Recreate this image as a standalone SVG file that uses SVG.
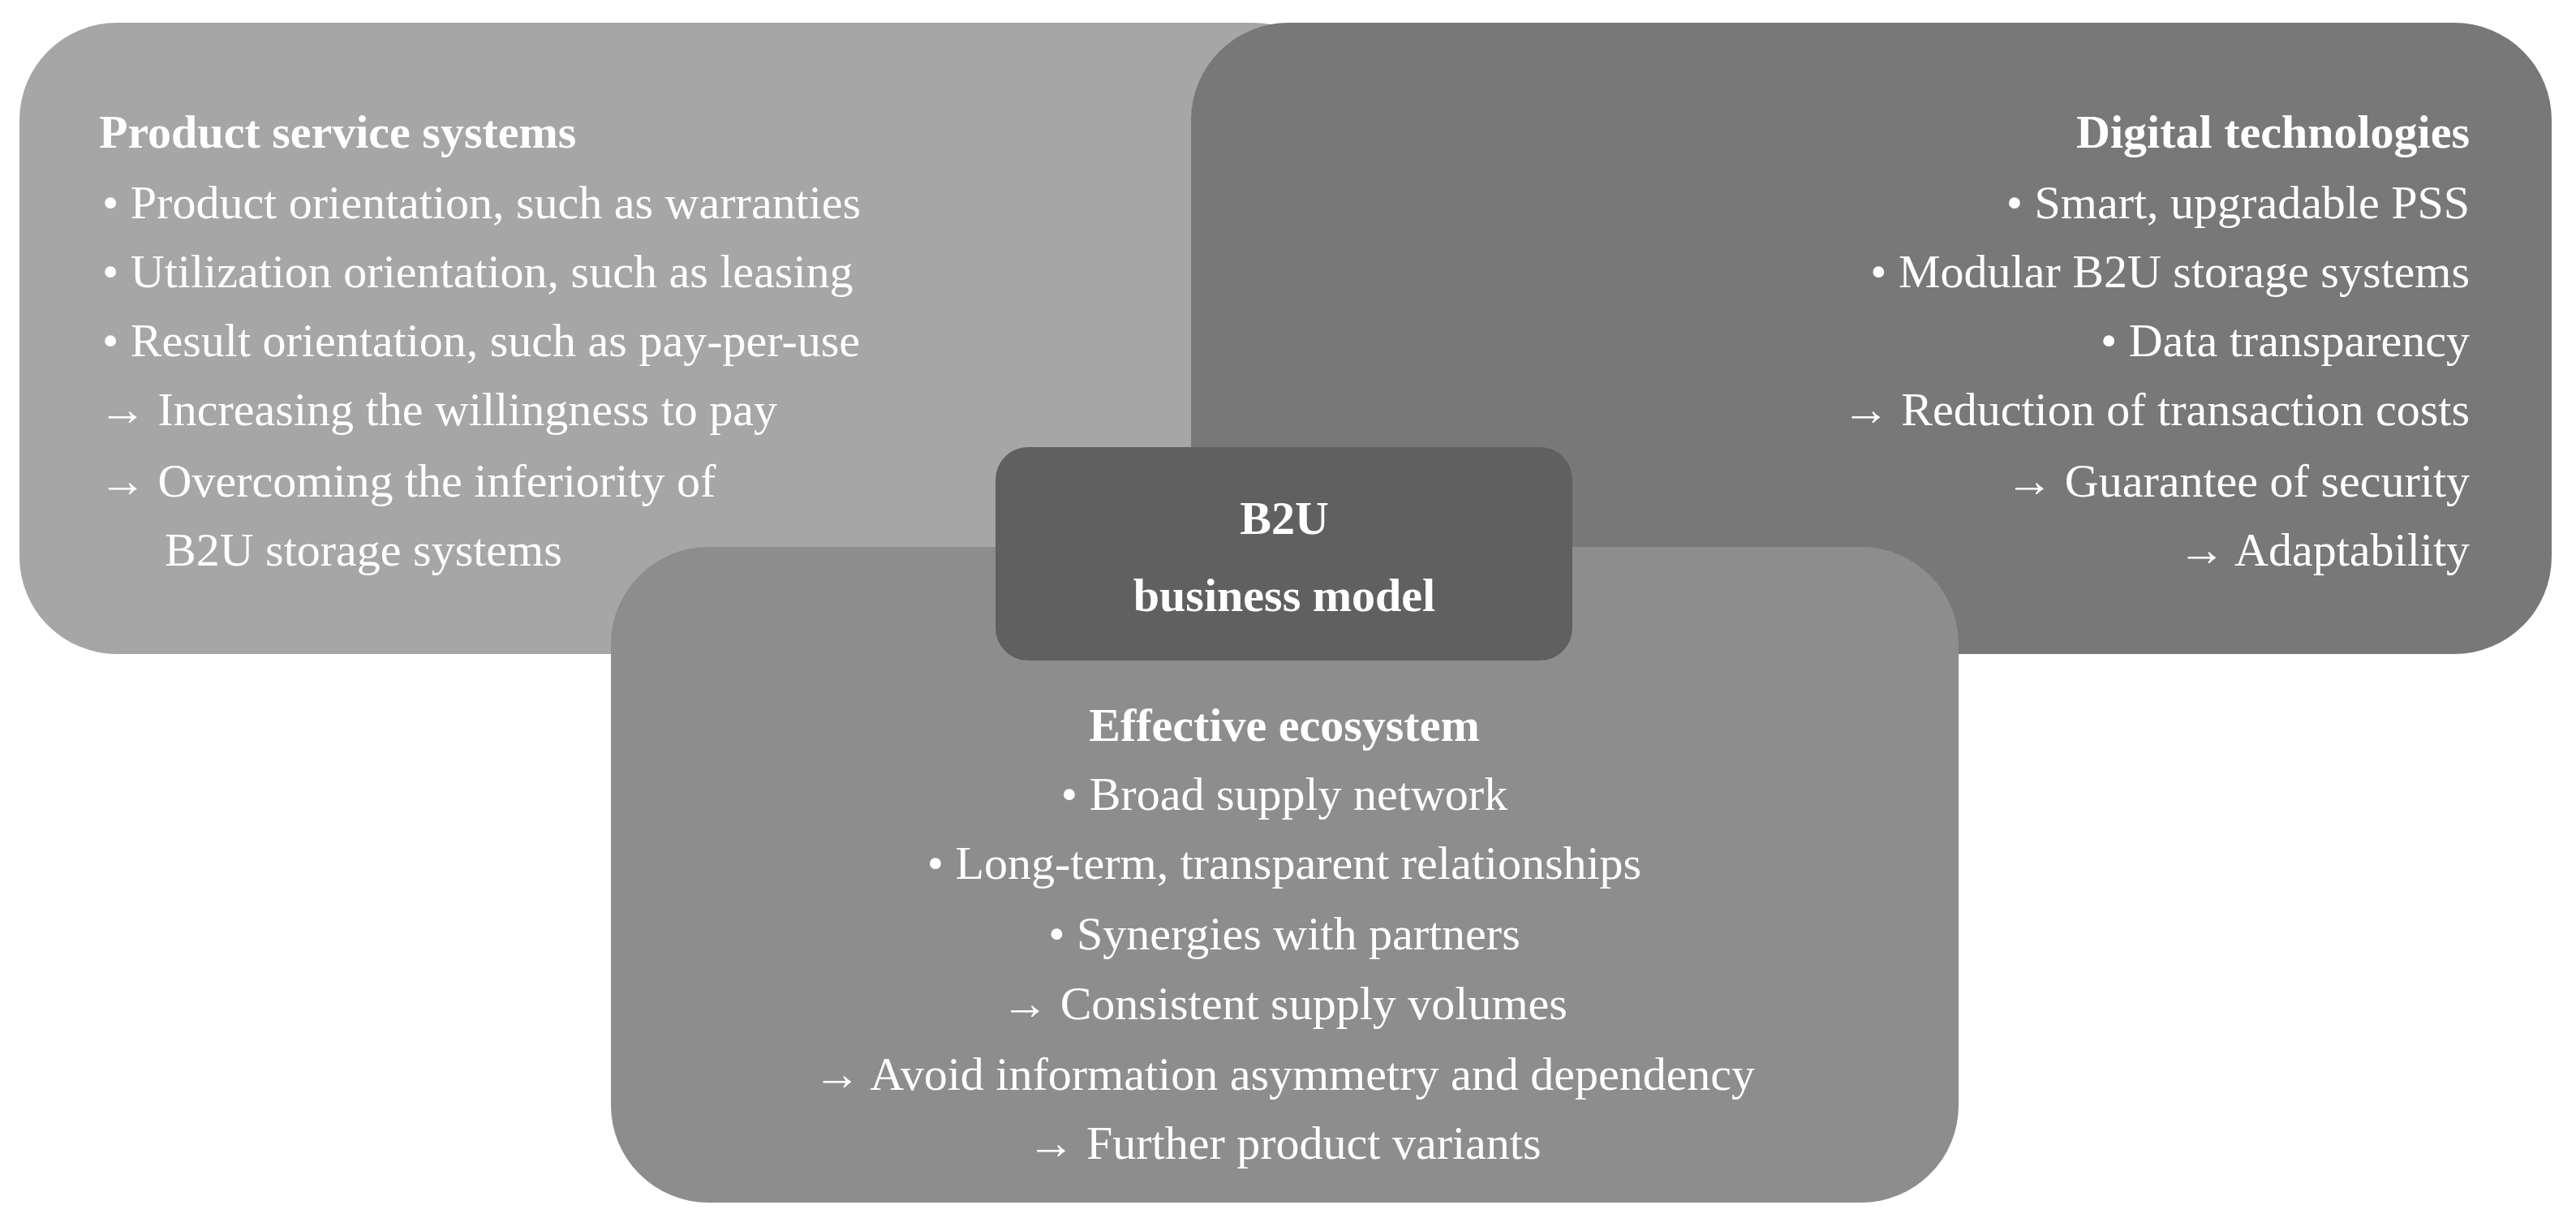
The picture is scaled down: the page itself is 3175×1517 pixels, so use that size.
<svg xmlns="http://www.w3.org/2000/svg" width="3175" height="1517" viewBox="0 0 3175 1517">
<style>
text{font-family:"Liberation Serif","DejaVu Serif",serif;font-size:58px;fill:#fff}
.b{font-weight:bold}
.r{text-anchor:end}
.m{text-anchor:middle}
</style>
<rect width="3175" height="1517" fill="#fff"/>
<g id="pss">
<rect x="24" y="28" width="1640" height="778" rx="120" fill="#a6a6a6"/>
</g>
<g id="digital">
<rect x="1468" y="28" width="1677" height="778" rx="120" fill="#787878"/>
</g>
<g id="ecosystem">
<rect x="753" y="674" width="1661" height="808" rx="120" fill="#8d8d8d"/>
</g>
<g id="pss-text">
<text x="122" y="182" class="b">Product service systems</text>
<text x="126" y="269">• Product orientation, such as warranties</text>
<text x="126" y="354">• Utilization orientation, such as leasing</text>
<text x="126" y="439">• Result orientation, such as pay-per-use</text>
<text x="122" y="524">→ Increasing the willingness to pay</text>
<text x="122" y="612">→ Overcoming the inferiority of</text>
<text x="203" y="697">B2U storage systems</text>
</g>
<g id="digital-text" class="r">
<text x="3044" y="182" class="b r">Digital technologies</text>
<text x="3044" y="269" class="r">• Smart, upgradable PSS</text>
<text x="3044" y="354" class="r">• Modular B2U storage systems</text>
<text x="3044" y="439" class="r">• Data transparency</text>
<text x="3044" y="524" class="r">→ Reduction of transaction costs</text>
<text x="3044" y="612" class="r">→ Guarantee of security</text>
<text x="3044" y="697" class="r">→ Adaptability</text>
</g>
<g id="eco-text">
<text x="1583" y="913" class="b m">Effective ecosystem</text>
<text x="1583" y="998" class="m">• Broad supply network</text>
<text x="1583" y="1083" class="m">• Long-term, transparent relationships</text>
<text x="1583" y="1170" class="m">• Synergies with partners</text>
<text x="1583" y="1256" class="m">→ Consistent supply volumes</text>
<text x="1583" y="1343" class="m">→ Avoid information asymmetry and dependency</text>
<text x="1583" y="1428" class="m">→ Further product variants</text>
</g>
<g id="center">
<rect x="1227" y="551" width="711" height="263" rx="40" fill="#606060"/>
<text x="1583" y="658" class="b m">B2U</text>
<text x="1583" y="753" class="b m">business model</text>
</g>
<g id="connectors"></g>
</svg>
